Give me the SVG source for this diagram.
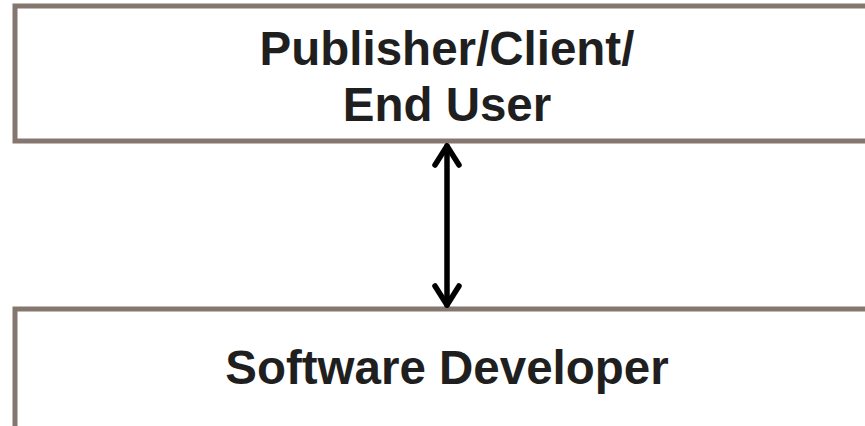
<svg xmlns="http://www.w3.org/2000/svg" width="865" height="426" viewBox="0 0 865 426">
  <defs>
    <style>
      .box { fill: #ffffff; stroke: #85766f; stroke-width: 5; }
      .label { font-family: "Liberation Sans", Arial, sans-serif; font-weight: bold; font-size: 47.5px; fill: #1f1f1f; text-anchor: middle; }
      .link { stroke: #000000; stroke-width: 5.5; stroke-linecap: round; fill: none; }
    </style>
    <marker id="chevron" markerUnits="userSpaceOnUse" viewBox="-24 -16 28 32" refX="0" refY="0" markerWidth="28" markerHeight="32" orient="auto-start-reverse">
      <path d="M -19,-12 L 0,0 L -19,12" fill="none" stroke="#000000" stroke-width="5.5" stroke-linecap="round" stroke-linejoin="round"/>
    </marker>
  </defs>
  <rect width="865" height="426" fill="#ffffff"/>

  <g id="publisher">
    <rect class="box" x="15" y="6" width="870" height="135"/>
    <text class="label" x="447" y="65">Publisher/Client/</text>
    <text class="label" x="447" y="121">End User</text>
  </g>

  <g id="developer">
    <rect class="box" x="15" y="309" width="870" height="130"/>
    <text class="label" x="447" y="384">Software Developer</text>
  </g>

  <g id="connectors">
    <line class="link" x1="447" y1="146" x2="447" y2="305" marker-start="url(#chevron)" marker-end="url(#chevron)"/>
  </g>
</svg>
